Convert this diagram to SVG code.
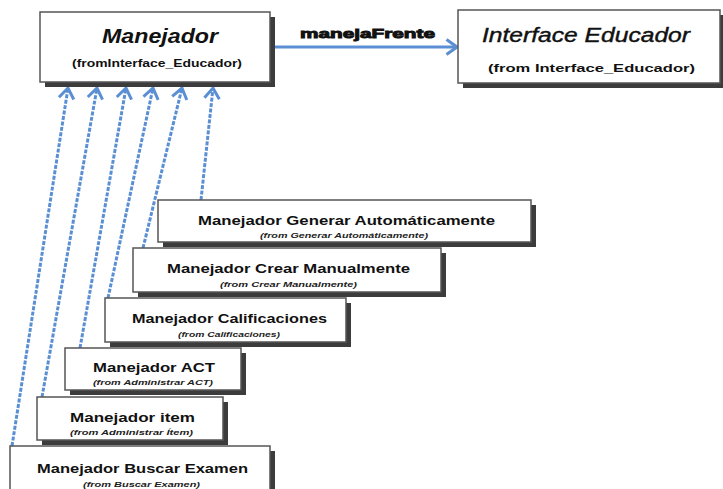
<svg xmlns="http://www.w3.org/2000/svg" width="723" height="489" viewBox="0 0 723 489">
  <defs>
    <style>
      .box { fill: #ffffff; stroke: #555555; stroke-width: 1.5; }
      .shadow { fill: #3c3c3c; }
      .title { font-family: "Liberation Sans", Arial, sans-serif; font-weight: bold; fill: #111; }
      .big { font-size: 20px; font-style: italic; }
      .mid { font-size: 13px; }
      .from { font-family: "Liberation Sans", Arial, sans-serif; font-weight: bold; font-size: 10px; fill: #111; }
      .tiny { font-family: "Liberation Sans", Arial, sans-serif; font-weight: bold; font-style: italic; font-size: 7px; fill: #222; }
      .dep { fill: none; stroke: #5b8fd3; stroke-width: 3; stroke-dasharray: 4 1.5; }
      .assoc { fill: none; stroke: #5b8fd3; stroke-width: 2.8; }
    </style>
    <marker id="open" viewBox="0 0 14 18" refX="12" refY="9" markerWidth="14" markerHeight="18" markerUnits="userSpaceOnUse" orient="auto">
      <path d="M1.5,1.5 L12,9 L1.5,16.5" fill="none" stroke="#5b8fd3" stroke-width="3"/>
    </marker>
  </defs>

  <!-- Connectors -->
  <g id="connectors">
    <line class="assoc" x1="274" y1="47" x2="457" y2="47" marker-end="url(#open)"/>
    <text class="title" x="300" y="38" font-size="13" textLength="135" lengthAdjust="spacingAndGlyphs" style="font-weight:900;stroke:#111;stroke-width:0.9">manejaFrente</text>
    <line class="dep" x1="12" y1="446" x2="68" y2="88" marker-end="url(#open)"/>
    <line class="dep" x1="42" y1="397" x2="97" y2="88" marker-end="url(#open)"/>
    <line class="dep" x1="80" y1="348" x2="126" y2="88" marker-end="url(#open)"/>
    <line class="dep" x1="108" y1="298" x2="153" y2="88" marker-end="url(#open)"/>
    <line class="dep" x1="143" y1="248" x2="182" y2="88" marker-end="url(#open)"/>
    <line class="dep" x1="201" y1="200" x2="213" y2="88" marker-end="url(#open)"/>
  </g>

  <!-- Manejador -->
  <g id="manejador">
    <rect class="shadow" x="45" y="17" width="230" height="70"/>
    <rect class="box" x="40" y="12" width="230" height="70"/>
    <text class="title big" x="102" y="43" textLength="116" lengthAdjust="spacingAndGlyphs">Manejador</text>
    <text class="from" x="72" y="67" textLength="170" lengthAdjust="spacingAndGlyphs">(fromInterface_Educador)</text>
  </g>

  <!-- Interface Educador -->
  <g id="interface-educador">
    <rect class="shadow" x="463" y="15" width="264" height="73"/>
    <rect class="box" x="458" y="10" width="262" height="73"/>
    <text class="title big" x="482" y="42" textLength="208" lengthAdjust="spacingAndGlyphs" style="font-weight:normal;stroke:#111;stroke-width:0.4">Interface Educador</text>
    <text class="from" x="488" y="72" textLength="207" lengthAdjust="spacingAndGlyphs">(from Interface_Educador)</text>
  </g>

  <!-- Manejador Generar Automáticamente -->
  <g id="generar">
    <rect class="shadow" x="163" y="205" width="373" height="42"/>
    <rect class="box" x="158" y="200" width="373" height="42"/>
    <text class="title mid" x="198" y="225" textLength="297" lengthAdjust="spacingAndGlyphs">Manejador Generar Automáticamente</text>
    <text class="tiny" x="260" y="238" textLength="168" lengthAdjust="spacingAndGlyphs">(from Generar Automáticamente)</text>
  </g>

  <!-- Manejador Crear Manualmente -->
  <g id="crear">
    <rect class="shadow" x="138" y="253" width="308" height="44"/>
    <rect class="box" x="133" y="248" width="308" height="44"/>
    <text class="title mid" x="167" y="273" textLength="243" lengthAdjust="spacingAndGlyphs">Manejador Crear Manualmente</text>
    <text class="tiny" x="220" y="287" textLength="137" lengthAdjust="spacingAndGlyphs">(from Crear Manualmente)</text>
  </g>

  <!-- Manejador Calificaciones -->
  <g id="calificaciones">
    <rect class="shadow" x="110" y="303" width="241" height="44"/>
    <rect class="box" x="105" y="298" width="241" height="44"/>
    <text class="title mid" x="132" y="323" textLength="195" lengthAdjust="spacingAndGlyphs">Manejador Calificaciones</text>
    <text class="tiny" x="178" y="337" textLength="102" lengthAdjust="spacingAndGlyphs">(from Calificaciones)</text>
  </g>

  <!-- Manejador ACT -->
  <g id="act">
    <rect class="shadow" x="70" y="353" width="176" height="42"/>
    <rect class="box" x="65" y="348" width="176" height="42"/>
    <text class="title mid" x="93" y="372" textLength="122" lengthAdjust="spacingAndGlyphs">Manejador ACT</text>
    <text class="tiny" x="93" y="385" textLength="120" lengthAdjust="spacingAndGlyphs">(from Administrar  ACT)</text>
  </g>

  <!-- Manejador item -->
  <g id="item">
    <rect class="shadow" x="42" y="402" width="186" height="43"/>
    <rect class="box" x="37" y="397" width="186" height="43"/>
    <text class="title mid" x="70" y="422" textLength="125" lengthAdjust="spacingAndGlyphs">Manejador item</text>
    <text class="tiny" x="70" y="435" textLength="123" lengthAdjust="spacingAndGlyphs">(from Administrar  Ítem)</text>
  </g>

  <!-- Manejador Buscar Examen -->
  <g id="buscar">
    <rect class="shadow" x="15" y="451" width="260" height="48"/>
    <rect class="box" x="10" y="446" width="260" height="48"/>
    <text class="title mid" x="37" y="473" textLength="211" lengthAdjust="spacingAndGlyphs">Manejador Buscar Examen</text>
    <text class="tiny" x="83" y="487" textLength="117" lengthAdjust="spacingAndGlyphs">(from Buscar  Examen)</text>
  </g>
</svg>
